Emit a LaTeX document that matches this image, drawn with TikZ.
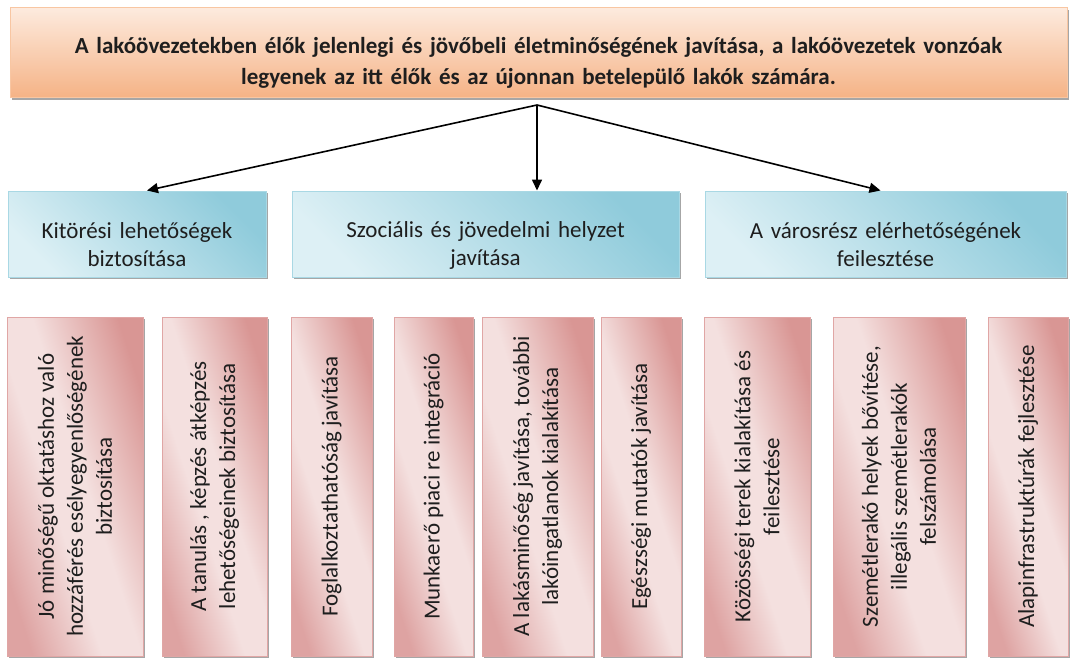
\documentclass[tikz,border=0pt]{standalone}
\usepackage{fontspec}
\setmainfont{Carlito}
\usepackage{graphicx}
\usetikzlibrary{arrows.meta, shadows, positioning}

\definecolor{peachtop}{HTML}{FDEBDF}
\definecolor{peachbot}{HTML}{F5B386}
\definecolor{peachline}{HTML}{F8C6A2}
\definecolor{bluelight}{HTML}{DDF0F5}
\definecolor{bluedark}{HTML}{8FCBDB}
\definecolor{blueline}{HTML}{A9D8E4}
\definecolor{rosedark}{HTML}{D99694}
\definecolor{rosemid}{HTML}{DEA3A2}
\definecolor{roselight}{HTML}{F4E0DF}
\definecolor{roseline}{HTML}{E0A6A5}
\definecolor{inktext}{HTML}{1E1E1E}

% light band across the task boxes
\pgfdeclareverticalshading{roseband}{100bp}{color(0bp)=(rosemid); color(25bp)=(rosemid);
 color(43bp)=(roselight); color(53bp)=(roselight); color(75bp)=(rosedark); color(100bp)=(rosedark)}

% vertical text for the task boxes
\newcommand{\upright}[1]{\rotatebox{90}{\parbox{330pt}{\centering #1}}}

\begin{document}
\begin{tikzpicture}
[x=1pt, y=-1pt,
 >={Triangle[length=11pt, width=10pt]},
 every node/.style={inner sep=0pt, text=inktext,
 font=\fontsize{23}{28}\selectfont},
 goalbox/.style={draw=peachline, line width=1pt,
 top color=peachtop, bottom color=peachbot,
 drop shadow={shadow xshift=2pt, shadow yshift=-3pt, fill=black!35, opacity=1},
 minimum width=1057pt, minimum height=90pt, text width=1000pt, align=center,
 text height=37pt, font=\fontsize{23}{31}\selectfont\bfseries},
 aimbox/.style={draw=blueline, line width=1pt,
 top color=bluedark, bottom color=bluelight, shading angle=-45,
 drop shadow={shadow xshift=2pt, shadow yshift=-2pt, fill=black!35, opacity=1},
 minimum height=86pt, align=center, text height=38pt},
 taskbox/.style={draw=roseline, line width=1pt,
 shading=roseband, shading angle=-72,
 drop shadow={shadow xshift=2pt, shadow yshift=-2pt, fill=black!35, opacity=1},
 minimum height=339pt, font=\fontsize{23}{29}\selectfont},
 link/.style={->, line width=1.6pt, black}
]
\useasboundingbox (0,0) rectangle (1070,657);

\node[goalbox] (goal) at (538.5,52) {A lakóövezetekben élők jelenlegi és jövőbeli életminőségének javítása, a lakóövezetek vonzóak\\legyenek az itt élők és az újonnan betelepülő lakók számára.};

\node[aimbox, minimum width=258pt, text width=245pt] (kitores) at (137,234) {Kitörési lehetőségek\\biztosítása};
\node[aimbox, minimum width=387pt, text width=370pt] (szocialis) at (485.5,234) {Szociális és jövedelmi helyzet\\javítása};
\node[aimbox, minimum width=361pt, text width=345pt] (varosresz) at (885.5,234) {A városrész elérhetőségének\\feilesztése};

\coordinate (hub) at (537,105);
\draw[link] (hub) -- ([xshift=10pt]kitores.north);
\draw[link] (hub) -- (hub |- szocialis.north);
\draw[link] (hub) -- ([xshift=-5pt]varosresz.north);

\node[taskbox, minimum width=136pt] (oktatas) at (75,486.5) {\upright{Jó minőségű oktatáshoz való\\hozzáférés esélyegyenlőségének\\biztosítása}};
\node[taskbox, minimum width=105pt] (tanulas) at (214.5,486.5) {\upright{A tanulás , képzés átképzés\\lehetőségeinek biztosítása}};
\node[taskbox, minimum width=81pt] (foglalk) at (331.5,486.5) {\upright{Foglalkoztathatóság javítása}};
\node[taskbox, minimum width=79pt] (munkaero) at (433.5,486.5) {\upright{Munkaerő piaci re integráció}};
\node[taskbox, minimum width=111pt] (lakas) at (537.5,486.5) {\upright{A lakásminőség javítása, további\\lakóingatlanok kialakítása}};
\node[taskbox, minimum width=80pt] (egeszseg) at (641,486.5) {\upright{Egészségi mutatók javítása}};
\node[taskbox, minimum width=106pt] (kozosseg) at (757,486.5) {\upright{Közösségi terek kialakítása és\\feilesztése}};
\node[taskbox, minimum width=132pt] (szemet) at (899,486.5) {\upright{Szemétlerakó helyek bővítése,\\illegális szemétlerakók\\felszámolása}};
\node[taskbox, minimum width=80pt] (infra) at (1028,486.5) {\upright{Alapinfrastruktúrák fejlesztése}};
\end{tikzpicture}
\end{document}
